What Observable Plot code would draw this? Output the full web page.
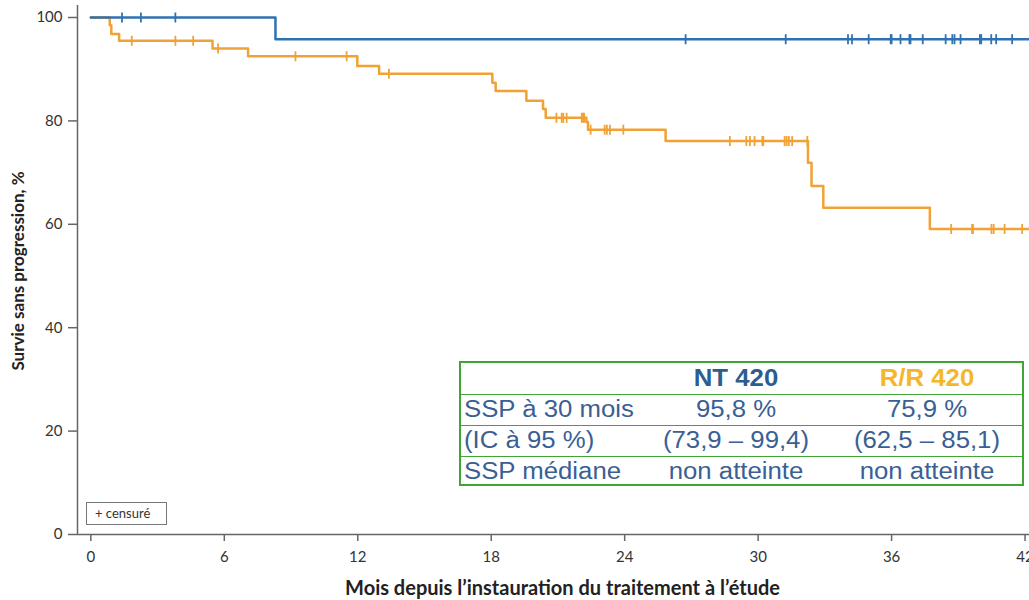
<!DOCTYPE html>
<html><head><meta charset="utf-8">
<script src="https://cdn.jsdelivr.net/npm/d3@7"></script>
<script src="https://cdn.jsdelivr.net/npm/@observablehq/plot@0.6"></script>
<style>
body{margin:0;background:#fff;}
#wrap{position:relative;width:1029px;height:600px;overflow:hidden;}
#tbl{position:absolute;left:459px;top:361px;width:561px;height:121px;border:2px solid #3fa535;font-family:"Liberation Sans",Arial,sans-serif;font-size:23px;color:#3a5f94;}
#tbl .row{position:absolute;left:0;width:561px;height:31px;line-height:31px;}
#tbl .row.b{border-bottom:1.5px solid #3fa535;}
#tbl span{position:absolute;top:0;white-space:nowrap;}
#tbl .c1{left:3px;transform:scaleX(1.12);transform-origin:left center;}
#tbl .c2{left:180px;width:190px;text-align:center;transform:scaleX(1.12);transform-origin:center;}
#tbl .c3{left:371px;width:190px;text-align:center;transform:scaleX(1.12);transform-origin:center;}
#leg{position:absolute;left:86px;top:502px;width:79px;height:21px;border:1px solid #777;font-family:Lato,sans-serif;font-size:13px;line-height:21px;color:#333;box-sizing:content-box;}
#leg span{position:absolute;left:8px;top:0;}
</style></head><body><div id="wrap"></div>
<script>
// axis ticks
const xTicks = [0, 6, 12, 18, 24, 30, 36, 42];
const yTicks = [0, 20, 40, 60, 80, 100];

// NT 420 : step times (months) and survival (%), last entry = end of follow-up
const ntTimes = [0, 8.3, 42.2];
const ntSurv  = [100, 95.8, 95.8];
const ntCensor = [1.4, 2.25, 3.8, 26.74, 31.24, 34.04, 34.22, 34.97, 35.96, 36.0, 36.4, 36.8, 36.85, 37.4, 38.43, 38.73, 38.83, 39.1, 39.97, 40.03, 40.48, 40.7, 41.42];

// R/R 420
const rrTimes = [0, 0.85, 0.92, 1.27, 5.47, 7.07, 11.98, 12.96, 18.05, 18.2, 19.58, 20.33, 20.45, 22.28, 22.35, 25.84, 32.24, 32.4, 32.93, 37.72, 42.2];
const rrSurv  = [100, 98.5, 96.8, 95.5, 94.0, 92.5, 90.6, 89.1, 87.4, 85.8, 83.9, 82.3, 80.6, 79.8, 78.3, 76.1, 71.9, 67.4, 63.2, 59.1, 59.1];
const rrCensor = [1.84, 3.8, 4.6, 5.72, 9.2, 11.5, 13.4, 20.93, 21.17, 21.24, 21.39, 22.07, 22.13, 22.18, 22.47, 23.1, 23.2, 23.34, 23.94, 28.73, 29.47, 29.63, 29.84, 30.19, 30.23, 31.19, 31.28, 31.38, 31.53, 32.21, 38.68, 39.62, 39.66, 40.49, 40.59, 41.08, 41.87];

// table texts
const groups = ["NT 420", "R/R 420"];
const rowLabels = ["SSP à 30 mois", "(IC à 95 %)", "SSP médiane"];
const ntCells = ["95,8 %", "(73,9 – 99,4)", "non atteinte"];
const rrCells = ["75,9 %", "(62,5 – 85,1)", "non atteinte"];

const blue = "#2f72b2", orange = "#f0a236";

function survAt(times, surv, t) {
  let v = surv[0];
  for (let i = 0; i < times.length; i++) if (times[i] <= t) v = surv[i];
  return v;
}
const ntLine = ntTimes.map((t, i) => ({t, s: ntSurv[i]}));
const rrLine = rrTimes.map((t, i) => ({t, s: rrSurv[i]}));
const censors = [
  ...ntCensor.map(t => ({t, s: survAt(ntTimes, ntSurv, t), g: "NT"})),
  ...rrCensor.map(t => ({t, s: survAt(rrTimes, rrSurv, t), g: "RR"}))
];
const vbar = {draw(ctx, size) { const r = Math.sqrt(size / Math.PI); ctx.moveTo(0, -r); ctx.lineTo(0, r); }};

const chart = Plot.plot({
  width: 1029, height: 600,
  marginLeft: 77, marginRight: 0, marginTop: 17, marginBottom: 66,
  x: {domain: [-0.6, 42.2]},
  y: {domain: [0, 100]},
  style: {fontFamily: "Lato, sans-serif", background: "transparent"},
  marks: [
    Plot.ruleY([0], {stroke: "#666", strokeWidth: 1.5}),
    Plot.ruleX([-0.6], {y1: 0, y2: 102.3, stroke: "#666", strokeWidth: 1.5}),
    Plot.axisX({ticks: xTicks, tickSize: 7, tickPadding: 10, fontSize: 15, color: "#333", stroke: "#666", strokeWidth: 1.5, label: null, tickFormat: d => d}),
    Plot.axisY({ticks: yTicks, tickSize: 9, tickPadding: 6, fontSize: 15, color: "#333", stroke: "#666", strokeWidth: 1.5, label: null, tickFormat: d => d}),
    Plot.line(rrLine, {x: "t", y: "s", curve: "step-after", stroke: orange, strokeWidth: 2.5}),
    Plot.line(ntLine, {x: "t", y: "s", curve: "step-after", stroke: blue, strokeWidth: 2.5}),
    Plot.dot(censors, {x: "t", y: "s", r: 5, symbol: vbar, fill: "none", stroke: d => d.g === "NT" ? blue : orange, strokeWidth: 1.8}),
    Plot.text(["Mois depuis l’instauration du traitement à l’étude"], {frameAnchor: "bottom", textAnchor: "middle", dx: 9, dy: 60, fontSize: 20, fontWeight: "bold", fill: "#222"}),
    Plot.text(["Survie sans progression, %"], {frameAnchor: "left", textAnchor: "middle", dx: -59, dy: -5, rotate: -90, fontSize: 17, fontWeight: "bold", fill: "#222"})
  ]
});
const wrap = document.getElementById("wrap");
wrap.appendChild(chart);

// results table (annotation)
const tbl = document.createElement("div");
tbl.id = "tbl";
let html = `<div class="row b" style="top:0"><span class="c2" style="font-weight:bold;color:#2d5d8f">${groups[0]}</span><span class="c3" style="font-weight:bold;color:#f5b72a">${groups[1]}</span></div>`;
rowLabels.forEach((lab, i) => {
  html += `<div class="row${i < 2 ? " b" : ""}" style="top:${(i + 1) * 31}px"><span class="c1">${lab}</span><span class="c2">${ntCells[i]}</span><span class="c3">${rrCells[i]}</span></div>`;
});
tbl.innerHTML = html;
wrap.appendChild(tbl);

const leg = document.createElement("div");
leg.id = "leg";
leg.innerHTML = "<span>+ censuré</span>";
wrap.appendChild(leg);
</script>
</body></html>
